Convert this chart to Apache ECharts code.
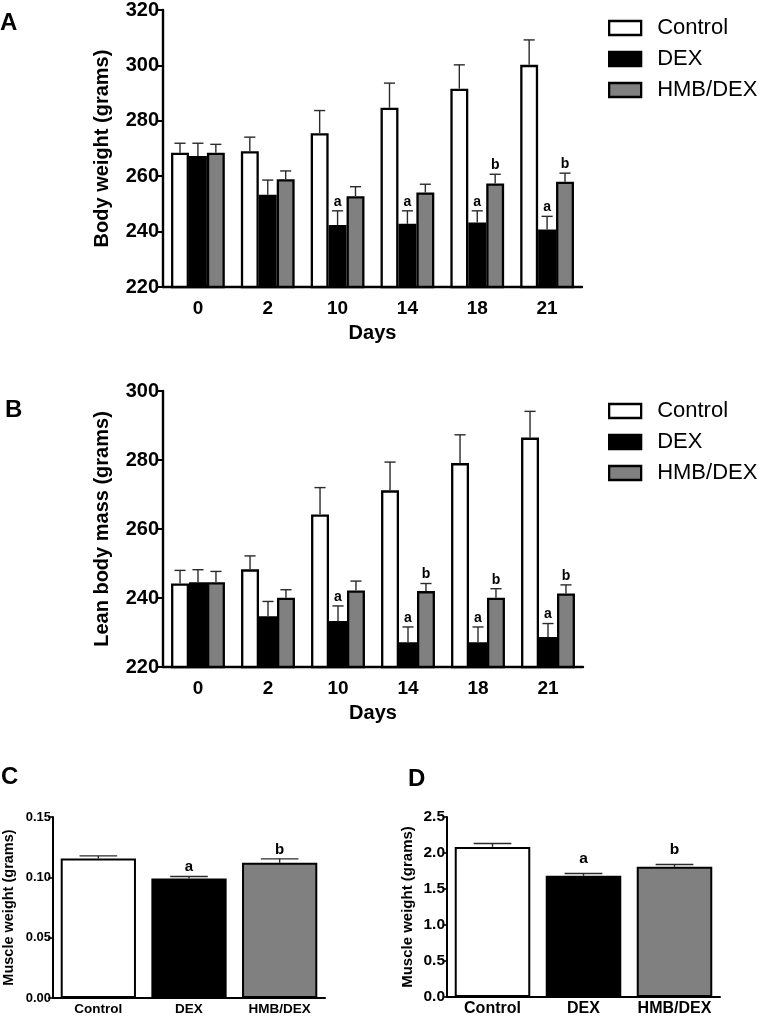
<!DOCTYPE html>
<html>
<head>
<meta charset="utf-8">
<script src="https://cdn.jsdelivr.net/npm/echarts@6/dist/echarts.min.js"></script>
<style>
html,body{margin:0;padding:0;background:#fff;}
#chart{width:760px;height:1017px;}
</style>
</head>
<body>
<div id="chart"></div>
<script>
// ---------- DATA ----------
const days = ['0', '2', '10', '14', '18', '21'];
const groupNames = ['Control', 'DEX', 'HMB/DEX'];

// Panel A: body weight (grams)
const bwControl    = [268.5, 269.0, 275.5, 284.7, 291.6, 300.2];
const bwControlErr = [3.4, 5.1, 8.2, 8.9, 8.6, 9.0];
const bwDex        = [267.3, 253.3, 242.4, 242.8, 243.3, 240.8];
const bwDexErr     = [4.6, 5.3, 5.1, 4.7, 4.2, 4.7];
const bwHmb        = [268.5, 258.9, 252.8, 254.1, 257.4, 258.0];
const bwHmbErr     = [3.0, 3.0, 3.4, 3.0, 3.3, 3.1];
const bwControlSig = ['', '', '', '', '', ''];
const bwDexSig     = ['', '', 'a', 'a', 'a', 'a'];
const bwHmbSig     = ['', '', '', '', 'b', 'b'];
const bwTicks = { min: 220, max: 320, interval: 20 };

// Panel B: lean body mass (grams)
const lbmControl    = [244.2, 248.3, 264.2, 271.2, 279.1, 286.5];
const lbmControlErr = [3.8, 3.9, 7.8, 8.2, 8.2, 7.6];
const lbmDex        = [244.6, 234.7, 233.3, 227.2, 227.2, 228.7];
const lbmDexErr     = [3.6, 4.3, 4.4, 4.4, 4.4, 3.9];
const lbmHmb        = [244.6, 240.1, 242.2, 242.0, 240.1, 241.3];
const lbmHmbErr     = [3.1, 2.3, 2.7, 2.2, 2.6, 2.5];
const lbmControlSig = ['', '', '', '', '', ''];
const lbmDexSig     = ['', '', 'a', 'a', 'a', 'a'];
const lbmHmbSig     = ['', '', '', 'b', 'b', 'b'];
const lbmTicks = { min: 220, max: 300, interval: 20 };

// Panel C: muscle weight (grams)
const cValues = [0.1156, 0.0990, 0.1120];
const cErr    = [0.0022, 0.0017, 0.0033];
const cSig    = ['', 'a', 'b'];
const cTicks  = { min: 0, max: 0.15, interval: 0.05, decimals: 2 };

// Panel D: muscle weight (grams)
const dValues = [2.085, 1.684, 1.808];
const dErr    = [0.046, 0.032, 0.032];
const dSig    = ['', 'a', 'b'];
const dTicks  = { min: 0, max: 2.5, interval: 0.5, decimals: 1 };

// ---------- STYLE ----------
const FONT = '"Liberation Sans", Arial, Helvetica, sans-serif';
const fills = ['#ffffff', '#000000', '#808080'];
const ERR_COLOR = '#2a2a2a';

function errRenderer(offsetIdx, nBars, gapRatio, capRatio, sigArr, sigGap, sigSize) {
  return function (params, api) {
    const x = api.value(0), v = api.value(1), e = api.value(2);
    const base = api.coord([x, v]);
    const top = api.coord([x, v + e]);
    const cw = api.size([1, 0])[0];
    const bw = cw * (1 - gapRatio) / nBars;
    const cx = base[0] + (offsetIdx - (nBars - 1) / 2) * bw;
    const capW = bw * capRatio;
    const children = [
      { type: 'line', shape: { x1: cx, y1: base[1], x2: cx, y2: top[1] },
        style: { stroke: ERR_COLOR, lineWidth: 1.4 } },
      { type: 'line', shape: { x1: cx - capW / 2, y1: top[1], x2: cx + capW / 2, y2: top[1] },
        style: { stroke: ERR_COLOR, lineWidth: 1.4 } }
    ];
    const s = sigArr[params.dataIndex];
    if (s) {
      children.push({ type: 'text', x: cx, y: top[1] - sigGap,
        style: { text: s, fill: '#000', font: 'bold ' + sigSize + 'px ' + FONT,
                 textAlign: 'center', textVerticalAlign: 'bottom' } });
    }
    return { type: 'group', children: children };
  };
}

function tupleData(vals, errs) {
  return vals.map((v, i) => [i, v, errs[i]]);
}

const series = [];
const xAxis = [];
const yAxis = [];

// Panels A and B (grouped bars)
const groupedPanels = [
  { idx: 0, vals: [bwControl, bwDex, bwHmb], errs: [bwControlErr, bwDexErr, bwHmbErr],
    sigs: [bwControlSig, bwDexSig, bwHmbSig], ticks: bwTicks, name: 'Body weight (grams)' },
  { idx: 1, vals: [lbmControl, lbmDex, lbmHmb], errs: [lbmControlErr, lbmDexErr, lbmHmbErr],
    sigs: [lbmControlSig, lbmDexSig, lbmHmbSig], ticks: lbmTicks, name: 'Lean body mass (grams)' }
];
const GAP_AB = 0.23;
groupedPanels.forEach(p => {
  xAxis.push({
    type: 'category', gridIndex: p.idx, data: days,
    name: 'Days', nameLocation: 'middle', nameGap: 36,
    nameTextStyle: { fontFamily: FONT, fontWeight: 'bold', fontSize: 20, color: '#000' },
    axisLine: { lineStyle: { color: '#000', width: 2.4 } },
    axisTick: { show: false },
    axisLabel: { interval: 0, fontFamily: FONT, fontWeight: 'bold', fontSize: 19, color: '#000', margin: 12 }
  });
  yAxis.push({
    type: 'value', gridIndex: p.idx, min: p.ticks.min, max: p.ticks.max, interval: p.ticks.interval,
    name: p.name, nameLocation: 'middle', nameGap: 51,
    nameTextStyle: { fontFamily: FONT, fontWeight: 'bold', fontSize: 20, color: '#000' },
    axisLine: { show: true, lineStyle: { color: '#000', width: 2.4 } },
    axisTick: { show: true, length: 7, lineStyle: { color: '#000', width: 2 } },
    axisLabel: { fontFamily: FONT, fontWeight: 'bold', fontSize: 20, color: '#000', margin: 4 },
    splitLine: { show: false }
  });
  for (let g = 0; g < 3; g++) {
    series.push({
      type: 'bar', name: groupNames[g], xAxisIndex: p.idx, yAxisIndex: p.idx,
      data: p.vals[g], barGap: '0%', barCategoryGap: (GAP_AB * 100) + '%',
      itemStyle: { color: fills[g], borderColor: '#000', borderWidth: 2.3 },
      z: 2
    });
  }
  for (let g = 0; g < 3; g++) {
    series.push({
      type: 'custom', name: groupNames[g] + ' err', xAxisIndex: p.idx, yAxisIndex: p.idx,
      data: tupleData(p.vals[g], p.errs[g]), encode: { x: 0, y: 1 },
      renderItem: errRenderer(g, 3, GAP_AB, 0.62, p.sigs[g], 2, 14),
      z: 3, silent: true
    });
  }
});

// Panels C and D (single bars)
const singlePanels = [
  { idx: 2, vals: cValues, errs: cErr, sig: cSig, ticks: cTicks, tickFont: 13, xFont: 13.5,
    nameFont: 14.5, nameGap: 37, tickLen: 5, sigGap: 2, sigSize: 15 },
  { idx: 3, vals: dValues, errs: dErr, sig: dSig, ticks: dTicks, tickFont: 15.5, xFont: 16,
    nameFont: 15, nameGap: 32, tickLen: 3, sigGap: 7, sigSize: 15.5 }
];
const GAP_CD = 0.17;
singlePanels.forEach(p => {
  xAxis.push({
    type: 'category', gridIndex: p.idx, data: groupNames,
    axisLine: { lineStyle: { color: '#000', width: 2 } },
    axisTick: { show: false },
    axisLabel: { interval: 0, hideOverlap: false, fontFamily: FONT, fontWeight: 'bold',
                 fontSize: p.xFont, color: '#000', margin: 4 }
  });
  yAxis.push({
    type: 'value', gridIndex: p.idx, min: p.ticks.min, max: p.ticks.max, interval: p.ticks.interval,
    name: 'Muscle weight (grams)', nameLocation: 'middle', nameGap: p.nameGap,
    nameTextStyle: { fontFamily: FONT, fontWeight: 'bold', fontSize: p.nameFont, color: '#000' },
    axisLine: { show: true, lineStyle: { color: '#000', width: 2 } },
    axisTick: { show: true, length: p.tickLen, lineStyle: { color: '#000', width: 1.6 } },
    axisLabel: { fontFamily: FONT, fontWeight: 'bold', fontSize: p.tickFont, color: '#000', margin: 2,
      formatter: (v) => v.toFixed(p.ticks.decimals) },
    splitLine: { show: false }
  });
  series.push({
    type: 'bar', name: 'Muscle ' + p.idx, xAxisIndex: p.idx, yAxisIndex: p.idx,
    data: p.vals.map((v, i) => ({ value: v, itemStyle: { color: fills[i] } })),
    barCategoryGap: (GAP_CD * 100) + '%',
    itemStyle: { borderColor: '#000', borderWidth: 2 },
    z: 2
  });
  series.push({
    type: 'custom', name: 'Muscle err ' + p.idx, xAxisIndex: p.idx, yAxisIndex: p.idx,
    data: tupleData(p.vals, p.errs), encode: { x: 0, y: 1 },
    renderItem: errRenderer(0, 1, GAP_CD, 0.5, p.sig, p.sigGap, p.sigSize),
    z: 3, silent: true
  });
});

const legendCommon = {
  orient: 'vertical', left: 608, padding: 0, itemWidth: 32, itemHeight: 14, itemGap: 9,
  icon: 'rect', selectedMode: false, data: groupNames,
  itemStyle: { borderColor: '#000', borderWidth: 2.3 },
  textStyle: { fontFamily: FONT, fontSize: 22, color: '#000', lineHeight: 22, padding: [0, 0, 0, 11] }
};

const letterStyle = { fontFamily: FONT, fontWeight: 'bold', fontSize: 24, color: '#000' };

const option = {
  animation: false,
  backgroundColor: '#fff',
  title: [
    { text: 'A', left: 0, top: 11, padding: 0, textStyle: letterStyle },
    { text: 'B', left: 5, top: 398, padding: 0, textStyle: letterStyle },
    { text: 'C', left: 1, top: 765, padding: 0, textStyle: letterStyle },
    { text: 'D', left: 408, top: 767, padding: 0, textStyle: letterStyle }
  ],
  legend: [
    Object.assign({}, legendCommon, { top: 17 }),
    Object.assign({}, legendCommon, { top: 400 })
  ],
  grid: [
    { left: 163, top: 8, width: 419, height: 279 },
    { left: 163, top: 391, width: 420, height: 276 },
    { left: 53, top: 817, width: 272, height: 181 },
    { left: 447, top: 817, width: 273, height: 180 }
  ],
  xAxis: xAxis,
  yAxis: yAxis,
  series: series
};

const chart = echarts.init(document.getElementById('chart'), null, { renderer: 'canvas' });
chart.setOption(option);
</script>
</body>
</html>
